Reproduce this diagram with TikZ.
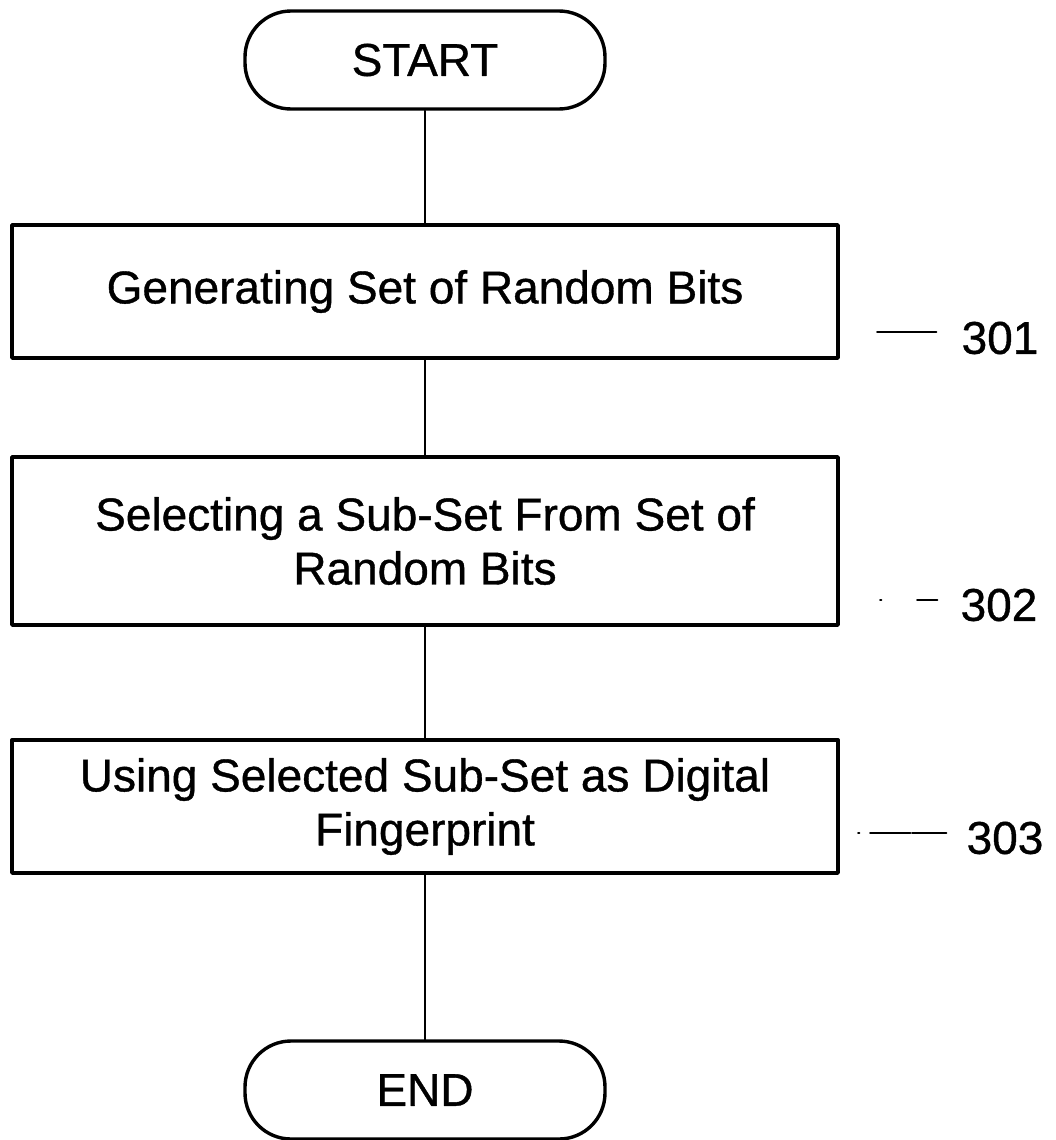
\documentclass[tikz,border=0pt]{standalone}
\usepackage{fontspec}
\setmainfont{Liberation Sans}[FakeBold=0.8]
\begin{document}
\begin{tikzpicture}[x=0.5pt, y=-0.5pt, font=\fontsize{23}{27}\selectfont, line join=round, line cap=round,
  term/.style={draw, line width=1.7pt, rounded corners=23pt, minimum width=180pt, minimum height=49pt, inner sep=0pt},
  stepbox/.style={draw, line width=1.7pt, minimum width=413pt, align=center, inner sep=0pt},
  num/.style={inner sep=0pt},
  link/.style={line width=0.9pt},
  leader/.style={line width=1.1pt}]
\def \xmid{425};
\useasboundingbox (0,0) rectangle (1055,1140);
\node[term] (start) at (\xmid,60) {START};
\node[stepbox, minimum height=66.5pt] (gen) at (\xmid,291.5) {Generating Set of Random Bits};
\node[stepbox, minimum height=84pt] (sel) at (\xmid,541) {Selecting a Sub-Set From Set of\\Random Bits};
\node[stepbox, minimum height=66.5pt] (use) at (\xmid,806.5) {Using Selected Sub-Set as Digital\\Fingerprint};
\node[term] (end) at (\xmid,1090) {END};
\draw[link] (start) -- (gen);
\draw[link] (gen) -- (sel);
\draw[link] (sel) -- (use);
\draw[link] (use) -- (end);
% reference numerals
\node[num] (n301) at (1000,338) {301};
\node[num] (n302) at (999,605) {302};
\node[num] (n303) at (1005,838) {303};
\draw[leader] ([xshift=-42pt,yshift=3pt]n301.west) -- ++(59,0);
\draw[leader, dash pattern=on 0.5pt off 18pt on 10.5pt] ([xshift=-40pt,yshift=2.5pt]n302.west) -- ++(57,0);
\draw[leader, dash pattern=on 0.5pt off 5.5pt on 20pt off 1pt on 17pt] ([xshift=-54pt,yshift=2.5pt]n303.west) -- ++(88,0);
\end{tikzpicture}
\end{document}
